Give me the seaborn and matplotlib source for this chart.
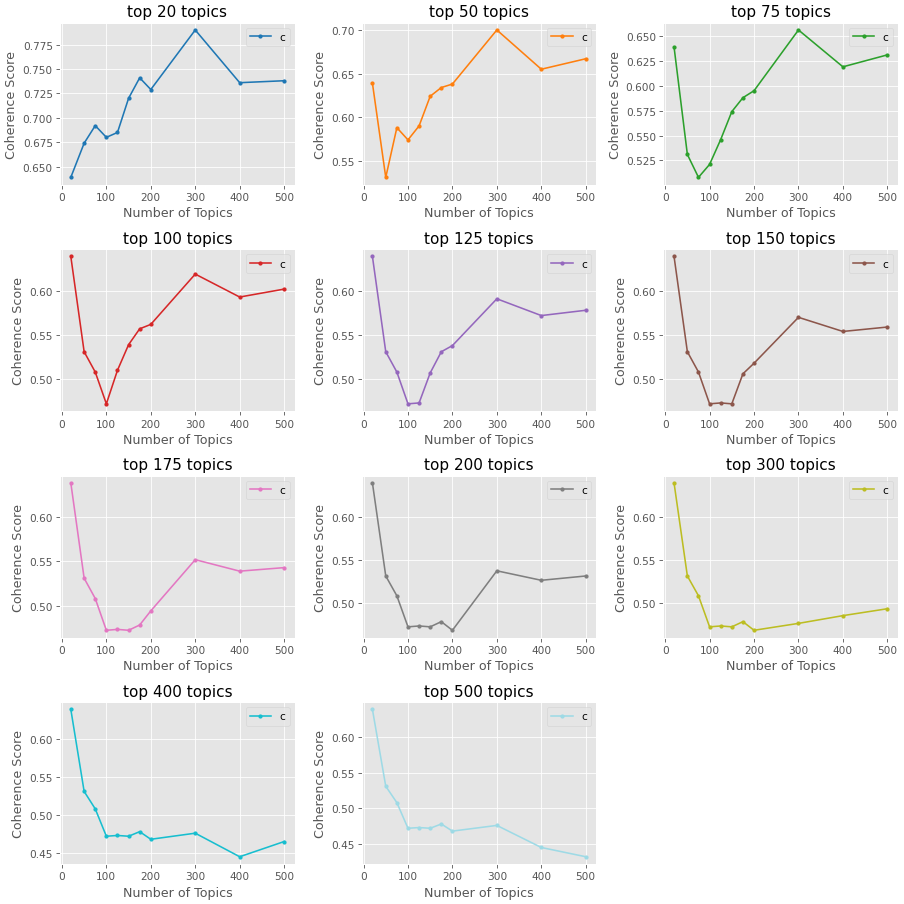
import matplotlib
matplotlib.use("Agg")
import matplotlib.pyplot as plt
import seaborn as sns

num_topics = [20, 50, 75, 100, 125, 150, 175, 200, 300, 400, 500]
top_ns = [20, 50, 75, 100, 125, 150, 175, 200, 300, 400, 500]

top20 = [0.639, 0.674, 0.692, 0.680, 0.685, 0.720, 0.741, 0.729, 0.790, 0.736, 0.738]
top50 = [0.639, 0.531, 0.588, 0.574, 0.590, 0.624, 0.634, 0.638, 0.700, 0.655, 0.667]
top75 = [0.639, 0.531, 0.508, 0.521, 0.546, 0.574, 0.588, 0.595, 0.656, 0.619, 0.631]
top100 = [0.639, 0.531, 0.508, 0.472, 0.510, 0.539, 0.557, 0.562, 0.619, 0.593, 0.602]
top125 = [0.639, 0.531, 0.508, 0.472, 0.473, 0.507, 0.531, 0.538, 0.591, 0.572, 0.578]
top150 = [0.639, 0.531, 0.508, 0.472, 0.473, 0.472, 0.506, 0.518, 0.570, 0.554, 0.559]
top175 = [0.639, 0.531, 0.508, 0.472, 0.473, 0.472, 0.478, 0.494, 0.552, 0.539, 0.543]
top200 = [0.639, 0.531, 0.508, 0.472, 0.473, 0.472, 0.478, 0.468, 0.537, 0.526, 0.531]
top300 = [0.639, 0.531, 0.508, 0.472, 0.473, 0.472, 0.478, 0.468, 0.476, 0.485, 0.493]
top400 = [0.639, 0.531, 0.508, 0.472, 0.473, 0.472, 0.478, 0.468, 0.476, 0.445, 0.465]
top500 = [0.639, 0.531, 0.508, 0.472, 0.473, 0.472, 0.478, 0.468, 0.476, 0.445, 0.432]

scores = [top20, top50, top75, top100, top125, top150, top175, top200,
          top300, top400, top500]

colors = ["#1f77b4", "#ff7f0e", "#2ca02c", "#d62728", "#9467bd", "#8c564b",
          "#e377c2", "#7f7f7f", "#bcbd22", "#17becf", "#9edae5"]

DPI = 76
plt.style.use("ggplot")
fig, axes = plt.subplots(4, 3, figsize=(904 / DPI, 905 / DPI), dpi=DPI)
axes = axes.flatten()

for i, (n, vals) in enumerate(zip(top_ns, scores)):
    ax = axes[i]
    sns.lineplot(x=num_topics, y=vals, marker="o", markersize=4,
                 markeredgewidth=0, color=colors[i], label="c", ax=ax)
    ax.set_title(f"top {n} topics")
    ax.set_xlabel("Number of Topics")
    ax.set_ylabel("Coherence Score")
    ax.set_xticks([0, 100, 200, 300, 400, 500])
    ax.legend(loc="upper right")

axes[-1].remove()

fig.tight_layout(pad=0.5, h_pad=1.08, w_pad=1.08)
fig.savefig("out.png", dpi=DPI)
